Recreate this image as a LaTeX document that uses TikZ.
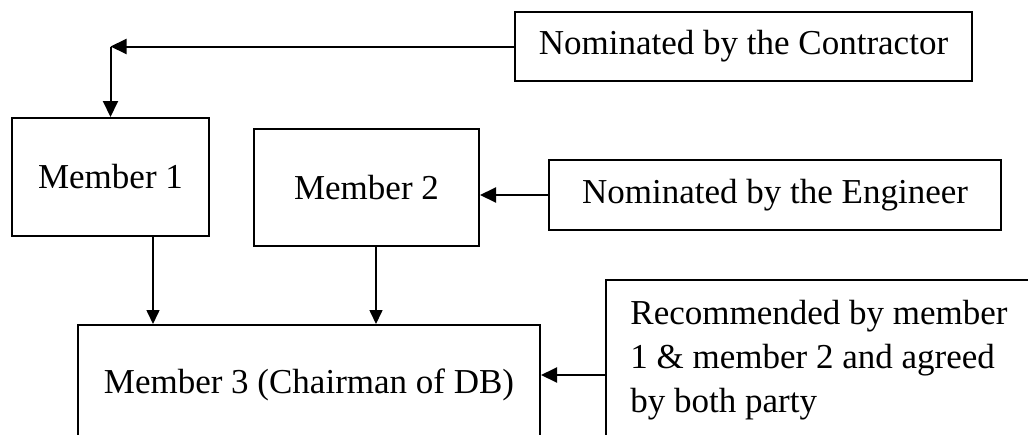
\documentclass[tikz,border=0pt]{standalone}
\usepackage{fontspec}
\setmainfont{Liberation Serif}
\usetikzlibrary{arrows.meta}
\tikzset{
	boardbox/.style={draw, line width=1pt, inner sep=0pt, align=left,
		font=\fontsize{17.5}{22}\selectfont},
	nominate/.style={-{Triangle[length=8pt,width=7.5pt]}, line width=1pt},
	feed/.style={-{Triangle[length=7pt,width=6.5pt]}, line width=0.8pt}
}
\begin{document}
\begin{tikzpicture}[x=0.5pt,y=-0.5pt]
		\clip (0,0) rectangle (1028,434);
		\fill[white] (0,0) rectangle (1028,434);
		% the two nominating parties
		\node[boardbox, minimum width=228.5pt, minimum height=34.5pt] (contractor) at (743.5,46.5) {Nominated by the Contractor};
		\node[boardbox, minimum width=226pt, minimum height=35pt] (engineer) at (775,195) {Nominated by the Engineer};
		% the board members
		\node[boardbox, minimum width=98.5pt, minimum height=59pt] (member1) at (110.5,177) {Member 1};
		\node[boardbox, minimum width=112.5pt, minimum height=58.5pt] (member2) at (366.5,187.5) {Member 2};
		\node[boardbox, minimum width=231pt, minimum height=60pt] (member3) at (309,385) {Member 3 (Chairman of DB)};
		\node[boardbox, minimum width=213pt, minimum height=80pt] (recommend) at (819,360) {Recommended by member\\1 \& member 2 and agreed\\by both party};
		
		\coordinate (bend) at (member1.north |- contractor.west);
		\draw[nominate] (contractor.west) -- (bend);
		\draw[nominate] (bend) -- (member1.north);
		\draw[nominate] (engineer.west) -- (engineer.west -| member2.east);
		
		\draw[feed] ([xshift=21.25pt]member1.south) -- ([xshift=21.25pt]member1.south |- member3.north);
		\draw[feed] ([xshift=4.75pt]member2.south) -- ([xshift=4.75pt]member2.south |- member3.north);
		\draw[nominate] ([yshift=-7.5pt]recommend.west) -- ([yshift=-7.5pt]recommend.west -| member3.east);
	\end{tikzpicture}
\end{document}
